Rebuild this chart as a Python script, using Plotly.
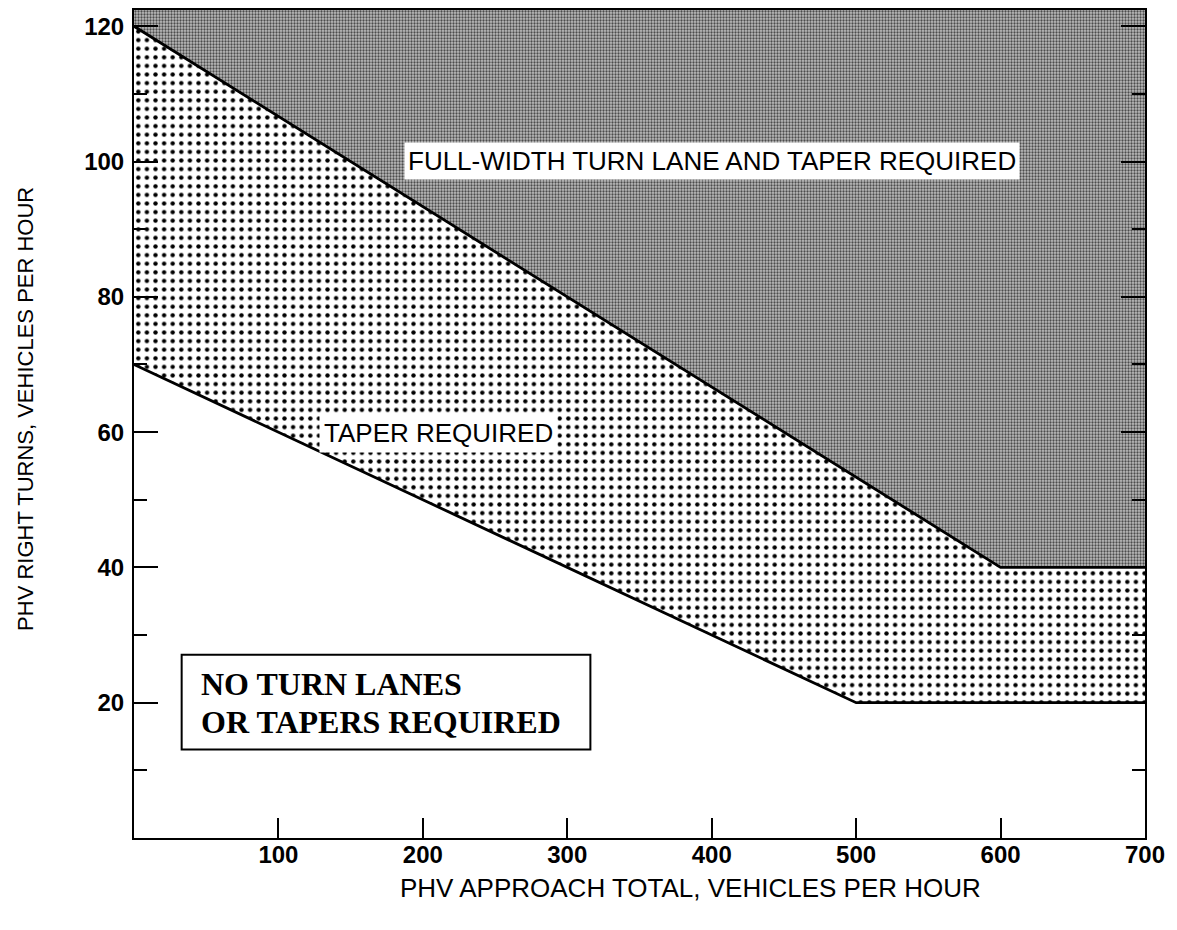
import plotly.graph_objects as go

# Boundary lines (PHV approach total vs PHV right turns)
upper_x = [0, 600, 700]
upper_y = [120, 40, 40]
lower_x = [0, 500, 700]
lower_y = [70, 20, 20]

x_tickvals = [100, 200, 300, 400, 500, 600, 700]
y_tickvals = [20, 40, 60, 80, 100, 120]
y_minorvals = [10, 30, 50, 70, 90, 110]

X_MAX = 700
Y_MAX = 122.4

SANS = "Arial, Liberation Sans, Helvetica, sans-serif"
SERIF = "Times New Roman, Liberation Serif, serif"

fig = go.Figure()

# Taper-required band (between lines)
fig.add_trace(go.Scatter(
    x=upper_x + lower_x[::-1],
    y=upper_y + lower_y[::-1],
    fill="toself", mode="none", hoverinfo="skip", showlegend=False,
    fillcolor="white",
    fillpattern=dict(shape=".", size=8.6, solidity=0.2,
                     fgcolor="black", bgcolor="white", fillmode="replace"),
))

# Full-width turn lane region (above upper line)
fig.add_trace(go.Scatter(
    x=upper_x + [X_MAX, 0],
    y=upper_y + [Y_MAX, Y_MAX],
    fill="toself", mode="none", hoverinfo="skip", showlegend=False,
    fillcolor="#8e8e8e",
    fillpattern=dict(shape=".", size=3, solidity=0.45,
                     fgcolor="#4c4c4c", bgcolor="#bdbdbd", fillmode="replace"),
))

# Boundary lines
for xs, ys in [(upper_x, upper_y), (lower_x, lower_y)]:
    fig.add_trace(go.Scatter(x=xs, y=ys, mode="lines",
                             line=dict(color="black", width=2.8),
                             hoverinfo="skip", showlegend=False))

fig.update_xaxes(
    range=[0, X_MAX], tickmode="array", tickvals=x_tickvals,
    ticks="inside", ticklen=20, tickwidth=2, tickcolor="black",
    showline=True, linewidth=2, linecolor="black", mirror=True,
    showgrid=False, zeroline=False,
    tickfont=dict(family=SANS, size=24, color="black", weight="bold"),
    ticklabelstandoff=-6,
)
fig.update_yaxes(
    range=[0, Y_MAX], tickmode="array", tickvals=y_tickvals,
    ticks="inside", ticklen=24, tickwidth=2, tickcolor="black",
    minor=dict(tickmode="array", tickvals=y_minorvals, ticks="inside",
               ticklen=13, tickwidth=2, tickcolor="black", showgrid=False),
    showline=True, linewidth=2, linecolor="black", mirror="ticks",
    showgrid=False, zeroline=False,
    tickfont=dict(family=SANS, size=24, color="black", weight="bold"),
    ticklabelstandoff=3,
)

annotations = [
    dict(text="FULL-WIDTH TURN LANE AND TAPER REQUIRED", x=400, y=100.1,
         xref="x", yref="y", showarrow=False,
         font=dict(family=SANS, size=26, color="black"),
         bgcolor="white", borderpad=3),
    dict(text="TAPER REQUIRED", x=211, y=59.8, xref="x", yref="y",
         showarrow=False, font=dict(family=SANS, size=26, color="black"),
         bgcolor="white", borderpad=4),
    dict(text="<b>NO TURN LANES</b>", x=45, y=22.7, xref="x", yref="y",
         xanchor="left", yanchor="middle", showarrow=False,
         font=dict(family=SERIF, size=32, color="black")),
    dict(text="<b>OR TAPERS REQUIRED</b>", x=45, y=17.2, xref="x", yref="y",
         xanchor="left", yanchor="middle", showarrow=False,
         font=dict(family=SERIF, size=32, color="black")),
    dict(text="PHV APPROACH TOTAL, VEHICLES PER HOUR", x=0.55, y=-0.06,
         xref="paper", yref="paper", xanchor="center", yanchor="middle",
         showarrow=False, font=dict(family=SANS, size=26, color="black")),
    dict(text="PHV RIGHT TURNS, VEHICLES PER HOUR", x=-0.108, y=0.518,
         xref="paper", yref="paper", xanchor="center", yanchor="middle",
         textangle=-90, showarrow=False,
         font=dict(family=SANS, size=22, color="black")),
]

shapes = [
    dict(type="rect", xref="x", yref="y", x0=33, x1=316, y0=13.1, y1=27.1,
         line=dict(color="black", width=2), fillcolor="rgba(0,0,0,0)"),
]

fig.update_layout(
    width=1161, height=914,
    margin=dict(l=126, r=24, t=0, b=84),
    paper_bgcolor="white", plot_bgcolor="white",
    annotations=annotations, shapes=shapes,
    showlegend=False,
)

fig.write_html("out.html")
